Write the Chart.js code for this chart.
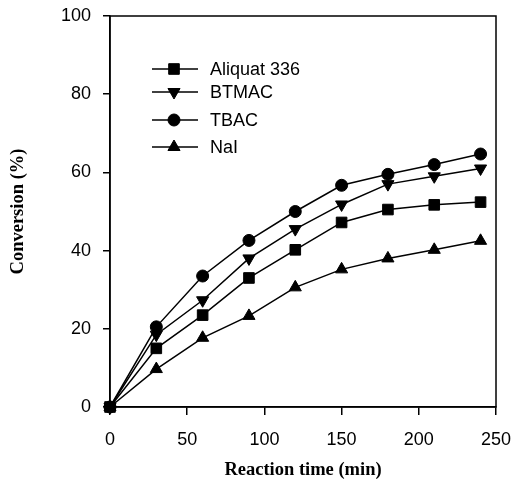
<!DOCTYPE html>
<html>
<head>
<meta charset="utf-8">
<script src="https://cdn.jsdelivr.net/npm/chart.js@4/dist/chart.umd.min.js"></script>
<style>
  html, body { margin: 0; padding: 0; background: #fff; }
  #wrap { width: 513px; height: 485px; }
</style>
</head>
<body>
<div id="wrap"><canvas id="c" width="513" height="485"></canvas></div>
<script>
const times = [0, 30, 60, 90, 120, 150, 180, 210, 240];
const aliquat = [0, 15, 23.5, 33, 40.2, 47.2, 50.5, 51.7, 52.4];
const btmac   = [0, 18.5, 27.3, 38, 45.5, 51.8, 57, 59, 61];
const tbac    = [0, 20.5, 33.5, 42.6, 50, 56.7, 59.5, 62, 64.7];
const nai     = [0, 9.7, 17.7, 23.3, 30.6, 35.2, 38, 40.2, 42.5];
const xTicks = [0, 50, 100, 150, 200, 250];
const yTicks = [0, 20, 40, 60, 80, 100];
const seriesNames = ['Aliquat 336', 'BTMAC', 'TBAC', 'NaI'];

function pts(vals) { return times.map((t, i) => ({ x: t, y: vals[i] })); }

const base = {
  borderColor: '#000', backgroundColor: '#000', borderWidth: 1.5,
  pointBorderColor: '#000', pointBackgroundColor: '#000', pointBorderWidth: 1,
  tension: 0, clip: false
};

const datasets = [
  Object.assign({}, base, { label: seriesNames[0], data: pts(aliquat), pointStyle: 'rect', pointRadius: 7.5, pointRotation: 0 }),
  Object.assign({}, base, { label: seriesNames[1], data: pts(btmac), pointStyle: 'triangle', pointRadius: 7, pointRotation: 180 }),
  Object.assign({}, base, { label: seriesNames[2], data: pts(tbac), pointStyle: 'circle', pointRadius: 6, pointRotation: 0 }),
  Object.assign({}, base, { label: seriesNames[3], data: pts(nai), pointStyle: 'triangle', pointRadius: 7, pointRotation: 0 })
];

const framePlugin = {
  id: 'frame',
  afterDatasetsDraw(chart) {
    const { ctx, chartArea: a } = chart;
    ctx.save();
    ctx.strokeStyle = '#000';
    ctx.lineWidth = 1.5;
    ctx.strokeRect(a.left, a.top, a.right - a.left, a.bottom - a.top);
    ctx.restore();
  }
};

const legendPlugin = {
  id: 'inlegend',
  afterDraw(chart) {
    const { ctx } = chart;
    const rows = [69, 92, 120, 147];
    ctx.save();
    chart.data.datasets.forEach((ds, i) => {
      const y = rows[i];
      ctx.strokeStyle = '#000';
      ctx.lineWidth = 1.5;
      ctx.beginPath();
      ctx.moveTo(152, y);
      ctx.lineTo(198, y);
      ctx.stroke();
      ctx.fillStyle = '#000';
      ctx.lineWidth = 1;
      Chart.helpers.drawPoint(ctx, {
        pointStyle: ds.pointStyle, radius: ds.pointRadius,
        rotation: ds.pointRotation, borderWidth: 1
      }, 174, y);
      ctx.fillStyle = '#000';
      ctx.font = '18px "Liberation Sans", Arial, sans-serif';
      ctx.textAlign = 'left';
      ctx.textBaseline = 'middle';
      ctx.fillText(ds.label, 210, y + 1);
    });
    ctx.restore();
  }
};

const tickFont = { family: '"Liberation Sans", Arial, sans-serif', size: 18 };
const titleFont = { family: '"Liberation Serif", "Times New Roman", serif', size: 18.5, weight: 'bold' };

function zeroPad(s) { s.paddingLeft = 0; s.paddingRight = 0; s.paddingTop = 0; s.paddingBottom = 0; }

new Chart(document.getElementById('c'), {
  type: 'line',
  data: { datasets },
  plugins: [framePlugin, legendPlugin],
  options: {
    responsive: false,
    animation: false,
    devicePixelRatio: 1,
    layout: { padding: { left: 0, right: 17, top: 16, bottom: 0 } },
    plugins: { legend: { display: false }, tooltip: { enabled: false } },
    scales: {
      x: {
        type: 'linear', min: 0, max: 250,
        afterBuildTicks(s) { s.ticks = xTicks.map(v => ({ value: v })); },
        afterFit(s) { s.height = 78; zeroPad(s); },
        grid: { drawOnChartArea: false, drawTicks: true, tickLength: 8, color: '#000', lineWidth: 1.5 },
        border: { display: true, color: '#000', width: 1.5 },
        ticks: { color: '#000', font: tickFont, padding: 14, maxRotation: 0 },
        title: { display: true, text: 'Reaction time (min)', color: '#000', font: titleFont, padding: { top: 0, bottom: 4 } }
      },
      y: {
        type: 'linear', min: 0, max: 100,
        afterBuildTicks(s) { s.ticks = yTicks.map(v => ({ value: v })); },
        afterFit(s) { s.width = 110; zeroPad(s); },
        grid: { drawOnChartArea: false, drawTicks: true, tickLength: 7, color: '#000', lineWidth: 1.5 },
        border: { display: true, color: '#000', width: 1.5 },
        ticks: { color: '#000', font: tickFont, padding: 12 },
        title: { display: true, text: 'Conversion (%)', color: '#000', font: titleFont, padding: { top: 7, bottom: 0 } }
      }
    }
  }
});
</script>
</body>
</html>
